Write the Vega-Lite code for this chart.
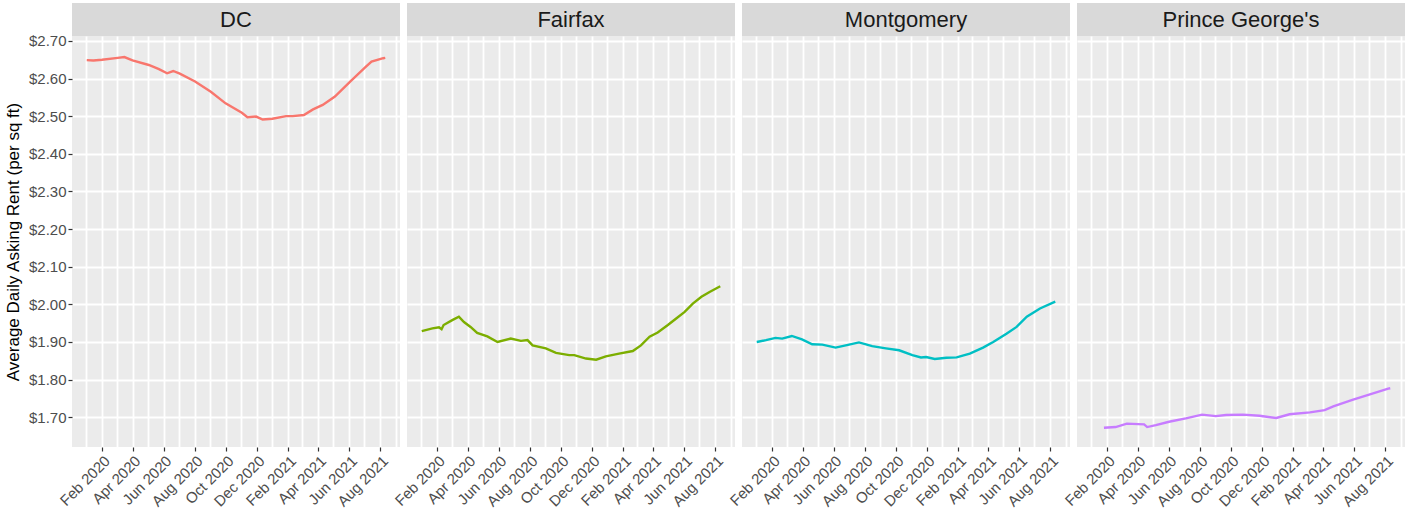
{
  "$schema": "https://vega.github.io/schema/vega-lite/v6.json",
  "padding": {"left": 4, "top": 3, "right": 7, "bottom": 3},
  "background": "white",
  "data": {
    "format": {"parse": {"date": "date:'%Y-%m-%d'"}},
    "values": [
      {"county": "DC", "date": "2020-01-02", "rent": 2.649},
      {"county": "DC", "date": "2020-01-15", "rent": 2.648},
      {"county": "DC", "date": "2020-02-01", "rent": 2.650},
      {"county": "DC", "date": "2020-03-03", "rent": 2.655},
      {"county": "DC", "date": "2020-03-16", "rent": 2.657},
      {"county": "DC", "date": "2020-04-01", "rent": 2.648},
      {"county": "DC", "date": "2020-05-03", "rent": 2.636},
      {"county": "DC", "date": "2020-05-23", "rent": 2.625},
      {"county": "DC", "date": "2020-06-08", "rent": 2.614},
      {"county": "DC", "date": "2020-06-20", "rent": 2.620},
      {"county": "DC", "date": "2020-07-03", "rent": 2.613},
      {"county": "DC", "date": "2020-08-02", "rent": 2.592},
      {"county": "DC", "date": "2020-09-02", "rent": 2.565},
      {"county": "DC", "date": "2020-10-01", "rent": 2.534},
      {"county": "DC", "date": "2020-11-02", "rent": 2.509},
      {"county": "DC", "date": "2020-11-13", "rent": 2.497},
      {"county": "DC", "date": "2020-11-30", "rent": 2.499},
      {"county": "DC", "date": "2020-12-13", "rent": 2.491},
      {"county": "DC", "date": "2021-01-01", "rent": 2.493},
      {"county": "DC", "date": "2021-01-28", "rent": 2.500},
      {"county": "DC", "date": "2021-02-10", "rent": 2.500},
      {"county": "DC", "date": "2021-03-04", "rent": 2.503},
      {"county": "DC", "date": "2021-03-22", "rent": 2.518},
      {"county": "DC", "date": "2021-04-10", "rent": 2.530},
      {"county": "DC", "date": "2021-05-04", "rent": 2.552},
      {"county": "DC", "date": "2021-06-03", "rent": 2.592},
      {"county": "DC", "date": "2021-07-03", "rent": 2.630},
      {"county": "DC", "date": "2021-07-15", "rent": 2.645},
      {"county": "DC", "date": "2021-08-07", "rent": 2.654},
      {"county": "DC", "date": "2021-08-11", "rent": 2.655},
      {"county": "Fairfax", "date": "2020-01-02", "rent": 1.929},
      {"county": "Fairfax", "date": "2020-01-23", "rent": 1.936},
      {"county": "Fairfax", "date": "2020-02-05", "rent": 1.939},
      {"county": "Fairfax", "date": "2020-02-10", "rent": 1.934},
      {"county": "Fairfax", "date": "2020-02-14", "rent": 1.945},
      {"county": "Fairfax", "date": "2020-03-02", "rent": 1.958},
      {"county": "Fairfax", "date": "2020-03-15", "rent": 1.967},
      {"county": "Fairfax", "date": "2020-03-25", "rent": 1.953},
      {"county": "Fairfax", "date": "2020-04-07", "rent": 1.940},
      {"county": "Fairfax", "date": "2020-04-20", "rent": 1.924},
      {"county": "Fairfax", "date": "2020-05-10", "rent": 1.915},
      {"county": "Fairfax", "date": "2020-05-30", "rent": 1.900},
      {"county": "Fairfax", "date": "2020-06-25", "rent": 1.909},
      {"county": "Fairfax", "date": "2020-07-15", "rent": 1.903},
      {"county": "Fairfax", "date": "2020-07-28", "rent": 1.905},
      {"county": "Fairfax", "date": "2020-08-07", "rent": 1.891},
      {"county": "Fairfax", "date": "2020-09-02", "rent": 1.883},
      {"county": "Fairfax", "date": "2020-09-22", "rent": 1.871},
      {"county": "Fairfax", "date": "2020-10-18", "rent": 1.865},
      {"county": "Fairfax", "date": "2020-10-28", "rent": 1.865},
      {"county": "Fairfax", "date": "2020-11-20", "rent": 1.856},
      {"county": "Fairfax", "date": "2020-12-10", "rent": 1.853},
      {"county": "Fairfax", "date": "2020-12-29", "rent": 1.862},
      {"county": "Fairfax", "date": "2021-01-24", "rent": 1.869},
      {"county": "Fairfax", "date": "2021-02-20", "rent": 1.876},
      {"county": "Fairfax", "date": "2021-03-08", "rent": 1.891},
      {"county": "Fairfax", "date": "2021-03-25", "rent": 1.914},
      {"county": "Fairfax", "date": "2021-04-10", "rent": 1.925},
      {"county": "Fairfax", "date": "2021-04-30", "rent": 1.945},
      {"county": "Fairfax", "date": "2021-05-17", "rent": 1.963},
      {"county": "Fairfax", "date": "2021-06-02", "rent": 1.980},
      {"county": "Fairfax", "date": "2021-06-18", "rent": 2.002},
      {"county": "Fairfax", "date": "2021-07-05", "rent": 2.020},
      {"county": "Fairfax", "date": "2021-07-21", "rent": 2.033},
      {"county": "Fairfax", "date": "2021-08-11", "rent": 2.048},
      {"county": "Montgomery", "date": "2020-01-02", "rent": 1.900},
      {"county": "Montgomery", "date": "2020-01-20", "rent": 1.905},
      {"county": "Montgomery", "date": "2020-02-08", "rent": 1.911},
      {"county": "Montgomery", "date": "2020-02-21", "rent": 1.909},
      {"county": "Montgomery", "date": "2020-03-11", "rent": 1.916},
      {"county": "Montgomery", "date": "2020-03-31", "rent": 1.907},
      {"county": "Montgomery", "date": "2020-04-20", "rent": 1.894},
      {"county": "Montgomery", "date": "2020-05-10", "rent": 1.893},
      {"county": "Montgomery", "date": "2020-06-05", "rent": 1.885},
      {"county": "Montgomery", "date": "2020-06-25", "rent": 1.891},
      {"county": "Montgomery", "date": "2020-07-21", "rent": 1.899},
      {"county": "Montgomery", "date": "2020-08-16", "rent": 1.889},
      {"county": "Montgomery", "date": "2020-09-12", "rent": 1.883},
      {"county": "Montgomery", "date": "2020-10-08", "rent": 1.878},
      {"county": "Montgomery", "date": "2020-11-03", "rent": 1.865},
      {"county": "Montgomery", "date": "2020-11-20", "rent": 1.859},
      {"county": "Montgomery", "date": "2020-11-30", "rent": 1.860},
      {"county": "Montgomery", "date": "2020-12-17", "rent": 1.855},
      {"county": "Montgomery", "date": "2021-01-09", "rent": 1.858},
      {"county": "Montgomery", "date": "2021-01-29", "rent": 1.859},
      {"county": "Montgomery", "date": "2021-02-24", "rent": 1.869},
      {"county": "Montgomery", "date": "2021-03-22", "rent": 1.885},
      {"county": "Montgomery", "date": "2021-04-11", "rent": 1.900},
      {"county": "Montgomery", "date": "2021-05-07", "rent": 1.922},
      {"county": "Montgomery", "date": "2021-05-27", "rent": 1.940},
      {"county": "Montgomery", "date": "2021-06-16", "rent": 1.967},
      {"county": "Montgomery", "date": "2021-07-12", "rent": 1.989},
      {"county": "Montgomery", "date": "2021-08-11", "rent": 2.007},
      {"county": "Prince George's", "date": "2020-01-26", "rent": 1.672},
      {"county": "Prince George's", "date": "2020-02-18", "rent": 1.674},
      {"county": "Prince George's", "date": "2020-03-11", "rent": 1.683},
      {"county": "Prince George's", "date": "2020-04-14", "rent": 1.681},
      {"county": "Prince George's", "date": "2020-04-20", "rent": 1.674},
      {"county": "Prince George's", "date": "2020-05-07", "rent": 1.679},
      {"county": "Prince George's", "date": "2020-06-02", "rent": 1.688},
      {"county": "Prince George's", "date": "2020-07-05", "rent": 1.697},
      {"county": "Prince George's", "date": "2020-08-06", "rent": 1.707},
      {"county": "Prince George's", "date": "2020-09-02", "rent": 1.703},
      {"county": "Prince George's", "date": "2020-09-22", "rent": 1.706},
      {"county": "Prince George's", "date": "2020-10-25", "rent": 1.707},
      {"county": "Prince George's", "date": "2020-11-27", "rent": 1.704},
      {"county": "Prince George's", "date": "2020-12-30", "rent": 1.698},
      {"county": "Prince George's", "date": "2021-01-25", "rent": 1.708},
      {"county": "Prince George's", "date": "2021-03-06", "rent": 1.713},
      {"county": "Prince George's", "date": "2021-04-04", "rent": 1.719},
      {"county": "Prince George's", "date": "2021-04-21", "rent": 1.729},
      {"county": "Prince George's", "date": "2021-05-30", "rent": 1.747},
      {"county": "Prince George's", "date": "2021-07-02", "rent": 1.761},
      {"county": "Prince George's", "date": "2021-08-07", "rent": 1.776},
      {"county": "Prince George's", "date": "2021-08-11", "rent": 1.777}
    ]
  },
  "spacing": -3,
  "vconcat": [
    {
      "spacing": 7,
      "bounds": "flush",
      "hconcat": [
        {
          "width": 328, "height": 33,
          "view": {"fill": "#D9D9D9", "stroke": null},
          "transform": [{"filter": "datum.county === 'DC'"}, {"aggregate": [], "groupby": ["county"]}],
          "mark": {"type": "text", "fontSize": 22, "color": "#1A1A1A", "baseline": "middle", "align": "center"},
          "encoding": {"text": {"field": "county", "type": "nominal"}}
        },
        {
          "width": 328, "height": 33,
          "view": {"fill": "#D9D9D9", "stroke": null},
          "transform": [{"filter": "datum.county === 'Fairfax'"}, {"aggregate": [], "groupby": ["county"]}],
          "mark": {"type": "text", "fontSize": 22, "color": "#1A1A1A", "baseline": "middle", "align": "center"},
          "encoding": {"text": {"field": "county", "type": "nominal"}}
        },
        {
          "width": 328, "height": 33,
          "view": {"fill": "#D9D9D9", "stroke": null},
          "transform": [{"filter": "datum.county === 'Montgomery'"}, {"aggregate": [], "groupby": ["county"]}],
          "mark": {"type": "text", "fontSize": 22, "color": "#1A1A1A", "baseline": "middle", "align": "center"},
          "encoding": {"text": {"field": "county", "type": "nominal"}}
        },
        {
          "width": 328, "height": 33,
          "view": {"fill": "#D9D9D9", "stroke": null},
          "transform": [{"filter": "datum.county === \"Prince George's\""}, {"aggregate": [], "groupby": ["county"]}],
          "mark": {"type": "text", "fontSize": 22, "color": "#1A1A1A", "baseline": "middle", "align": "center"},
          "encoding": {"text": {"field": "county", "type": "nominal"}}
        }
      ]
    },
    {
      "spacing": 7,
      "bounds": "flush",
      "hconcat": [
        {
          "width": 328, "height": 411,
          "transform": [{"filter": "datum.county === 'DC'"}],
          "mark": {"type": "line", "strokeWidth": 2.4},
          "encoding": {
            "x": {"field": "date", "type": "temporal",
              "scale": {"domain": [{"year": 2019, "month": 12, "date": 4}, {"year": 2021, "month": 9, "date": 9}]},
              "axis": {"title": null,
                "values": [{"year": 2020, "month": 1, "date": 1}, {"year": 2020, "month": 2, "date": 1}, {"year": 2020, "month": 3, "date": 1}, {"year": 2020, "month": 4, "date": 1}, {"year": 2020, "month": 5, "date": 1}, {"year": 2020, "month": 6, "date": 1}, {"year": 2020, "month": 7, "date": 1}, {"year": 2020, "month": 8, "date": 1}, {"year": 2020, "month": 9, "date": 1}, {"year": 2020, "month": 10, "date": 1}, {"year": 2020, "month": 11, "date": 1}, {"year": 2020, "month": 12, "date": 1}, {"year": 2021, "month": 1, "date": 1}, {"year": 2021, "month": 2, "date": 1}, {"year": 2021, "month": 3, "date": 1}, {"year": 2021, "month": 4, "date": 1}, {"year": 2021, "month": 5, "date": 1}, {"year": 2021, "month": 6, "date": 1}, {"year": 2021, "month": 7, "date": 1}, {"year": 2021, "month": 8, "date": 1}, {"year": 2021, "month": 9, "date": 1}],
                "labelExpr": "month(datum.value) % 2 == 1 ? timeFormat(datum.value, '%b %Y') : ''",
                "tickOpacity": {"condition": {"test": "month(datum.value) % 2 == 1", "value": 1}, "value": 0}}},
            "y": {"field": "rent", "type": "quantitative",
              "scale": {"domain": [1.621, 2.713], "nice": false, "zero": false},
              "axis": {"title": "Average Daily Asking Rent (per sq ft)", "format": "$.2f", "values": [1.7, 1.8, 1.9, 2.0, 2.1, 2.2, 2.3, 2.4, 2.5, 2.6, 2.7], "labelPadding": 2, "titlePadding": 6}},
            "color": {"field": "county", "type": "nominal", "legend": null,
              "scale": {"domain": ["DC", "Fairfax", "Montgomery", "Prince George's"], "range": ["#F8766D", "#7CAE00", "#00BFC4", "#C77CFF"]}}
          }
        },
        {
          "width": 328, "height": 411,
          "transform": [{"filter": "datum.county === 'Fairfax'"}],
          "mark": {"type": "line", "strokeWidth": 2.4},
          "encoding": {
            "x": {"field": "date", "type": "temporal",
              "scale": {"domain": [{"year": 2019, "month": 12, "date": 4}, {"year": 2021, "month": 9, "date": 9}]},
              "axis": {"title": null,
                "values": [{"year": 2020, "month": 1, "date": 1}, {"year": 2020, "month": 2, "date": 1}, {"year": 2020, "month": 3, "date": 1}, {"year": 2020, "month": 4, "date": 1}, {"year": 2020, "month": 5, "date": 1}, {"year": 2020, "month": 6, "date": 1}, {"year": 2020, "month": 7, "date": 1}, {"year": 2020, "month": 8, "date": 1}, {"year": 2020, "month": 9, "date": 1}, {"year": 2020, "month": 10, "date": 1}, {"year": 2020, "month": 11, "date": 1}, {"year": 2020, "month": 12, "date": 1}, {"year": 2021, "month": 1, "date": 1}, {"year": 2021, "month": 2, "date": 1}, {"year": 2021, "month": 3, "date": 1}, {"year": 2021, "month": 4, "date": 1}, {"year": 2021, "month": 5, "date": 1}, {"year": 2021, "month": 6, "date": 1}, {"year": 2021, "month": 7, "date": 1}, {"year": 2021, "month": 8, "date": 1}, {"year": 2021, "month": 9, "date": 1}],
                "labelExpr": "month(datum.value) % 2 == 1 ? timeFormat(datum.value, '%b %Y') : ''",
                "tickOpacity": {"condition": {"test": "month(datum.value) % 2 == 1", "value": 1}, "value": 0}}},
            "y": {"field": "rent", "type": "quantitative",
              "scale": {"domain": [1.621, 2.713], "nice": false, "zero": false},
              "axis": {"title": null, "labels": false, "ticks": false, "values": [1.7, 1.8, 1.9, 2.0, 2.1, 2.2, 2.3, 2.4, 2.5, 2.6, 2.7]}},
            "color": {"field": "county", "type": "nominal", "legend": null,
              "scale": {"domain": ["DC", "Fairfax", "Montgomery", "Prince George's"], "range": ["#F8766D", "#7CAE00", "#00BFC4", "#C77CFF"]}}
          }
        },
        {
          "width": 328, "height": 411,
          "transform": [{"filter": "datum.county === 'Montgomery'"}],
          "mark": {"type": "line", "strokeWidth": 2.4},
          "encoding": {
            "x": {"field": "date", "type": "temporal",
              "scale": {"domain": [{"year": 2019, "month": 12, "date": 4}, {"year": 2021, "month": 9, "date": 9}]},
              "axis": {"title": null,
                "values": [{"year": 2020, "month": 1, "date": 1}, {"year": 2020, "month": 2, "date": 1}, {"year": 2020, "month": 3, "date": 1}, {"year": 2020, "month": 4, "date": 1}, {"year": 2020, "month": 5, "date": 1}, {"year": 2020, "month": 6, "date": 1}, {"year": 2020, "month": 7, "date": 1}, {"year": 2020, "month": 8, "date": 1}, {"year": 2020, "month": 9, "date": 1}, {"year": 2020, "month": 10, "date": 1}, {"year": 2020, "month": 11, "date": 1}, {"year": 2020, "month": 12, "date": 1}, {"year": 2021, "month": 1, "date": 1}, {"year": 2021, "month": 2, "date": 1}, {"year": 2021, "month": 3, "date": 1}, {"year": 2021, "month": 4, "date": 1}, {"year": 2021, "month": 5, "date": 1}, {"year": 2021, "month": 6, "date": 1}, {"year": 2021, "month": 7, "date": 1}, {"year": 2021, "month": 8, "date": 1}, {"year": 2021, "month": 9, "date": 1}],
                "labelExpr": "month(datum.value) % 2 == 1 ? timeFormat(datum.value, '%b %Y') : ''",
                "tickOpacity": {"condition": {"test": "month(datum.value) % 2 == 1", "value": 1}, "value": 0}}},
            "y": {"field": "rent", "type": "quantitative",
              "scale": {"domain": [1.621, 2.713], "nice": false, "zero": false},
              "axis": {"title": null, "labels": false, "ticks": false, "values": [1.7, 1.8, 1.9, 2.0, 2.1, 2.2, 2.3, 2.4, 2.5, 2.6, 2.7]}},
            "color": {"field": "county", "type": "nominal", "legend": null,
              "scale": {"domain": ["DC", "Fairfax", "Montgomery", "Prince George's"], "range": ["#F8766D", "#7CAE00", "#00BFC4", "#C77CFF"]}}
          }
        },
        {
          "width": 328, "height": 411,
          "transform": [{"filter": "datum.county === \"Prince George's\""}],
          "mark": {"type": "line", "strokeWidth": 2.4},
          "encoding": {
            "x": {"field": "date", "type": "temporal",
              "scale": {"domain": [{"year": 2019, "month": 12, "date": 4}, {"year": 2021, "month": 9, "date": 9}]},
              "axis": {"title": null,
                "values": [{"year": 2020, "month": 1, "date": 1}, {"year": 2020, "month": 2, "date": 1}, {"year": 2020, "month": 3, "date": 1}, {"year": 2020, "month": 4, "date": 1}, {"year": 2020, "month": 5, "date": 1}, {"year": 2020, "month": 6, "date": 1}, {"year": 2020, "month": 7, "date": 1}, {"year": 2020, "month": 8, "date": 1}, {"year": 2020, "month": 9, "date": 1}, {"year": 2020, "month": 10, "date": 1}, {"year": 2020, "month": 11, "date": 1}, {"year": 2020, "month": 12, "date": 1}, {"year": 2021, "month": 1, "date": 1}, {"year": 2021, "month": 2, "date": 1}, {"year": 2021, "month": 3, "date": 1}, {"year": 2021, "month": 4, "date": 1}, {"year": 2021, "month": 5, "date": 1}, {"year": 2021, "month": 6, "date": 1}, {"year": 2021, "month": 7, "date": 1}, {"year": 2021, "month": 8, "date": 1}, {"year": 2021, "month": 9, "date": 1}],
                "labelExpr": "month(datum.value) % 2 == 1 ? timeFormat(datum.value, '%b %Y') : ''",
                "tickOpacity": {"condition": {"test": "month(datum.value) % 2 == 1", "value": 1}, "value": 0}}},
            "y": {"field": "rent", "type": "quantitative",
              "scale": {"domain": [1.621, 2.713], "nice": false, "zero": false},
              "axis": {"title": null, "labels": false, "ticks": false, "values": [1.7, 1.8, 1.9, 2.0, 2.1, 2.2, 2.3, 2.4, 2.5, 2.6, 2.7]}},
            "color": {"field": "county", "type": "nominal", "legend": null,
              "scale": {"domain": ["DC", "Fairfax", "Montgomery", "Prince George's"], "range": ["#F8766D", "#7CAE00", "#00BFC4", "#C77CFF"]}}
          }
        }
      ]
    }
  ],
  "config": {
    "font": "Liberation Sans",
    "view": {"fill": "#EBEBEB", "stroke": null},
    "axis": {
      "grid": true,
      "gridColor": "#FFFFFF",
      "gridWidth": 1.8,
      "gridOpacity": 1,
      "domain": false,
      "tickColor": "#333333",
      "tickWidth": 1.2,
      "tickSize": 4,
      "labelFont": "Liberation Sans",
      "labelFontSize": 15,
      "labelColor": "#4D4D4D",
      "titleFont": "Liberation Sans",
      "titleFontSize": 17,
      "titleFontWeight": "normal",
      "titleColor": "#000000"
    },
    "axisX": {"labelAngle": -45, "labelAlign": "right", "labelBaseline": "top", "labelPadding": 2, "labelOverlap": false, "labelFlush": false},
    "axisY": {"labelOverlap": false}
  }
}
